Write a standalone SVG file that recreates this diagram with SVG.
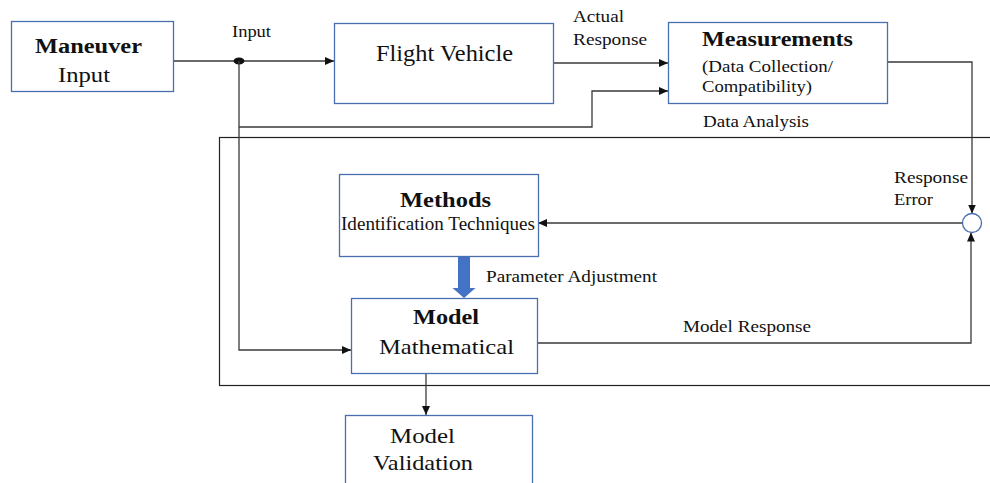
<svg xmlns="http://www.w3.org/2000/svg" width="990" height="483" viewBox="0 0 990 483">
  <style>
    .box { fill: #ffffff; stroke: #4a6fae; stroke-width: 1.3; }
    .frame { fill: none; stroke: #222222; stroke-width: 1.2; }
    .wire { fill: none; stroke: #3a3a3a; stroke-width: 1.3; }
    text { font-family: "Liberation Serif", "Times New Roman", serif; fill: #111111; }
    .b { font-weight: bold; }
    .lbl { font-size: 16px; }
  </style>
  <defs>
    <marker id="arr" markerUnits="userSpaceOnUse" markerWidth="10" markerHeight="8" refX="9" refY="4" orient="auto">
      <path d="M0,0 L9,4 L0,8 Z" fill="#111111"/>
    </marker>
  </defs>

  <!-- outer loop frame around identification loop -->
  <rect class="frame" x="219.5" y="137.5" width="800" height="248"/>

  <!-- connectors -->
  <g id="connectors">
    <path class="wire" d="M173 61 H334" marker-end="url(#arr)"/>
    <ellipse cx="239" cy="61" rx="5.5" ry="3.5" fill="#111111"/>
    <path class="wire" d="M239 61 V350 H351" marker-end="url(#arr)"/>
    <path class="wire" d="M239 127 H592 V91 H668" marker-end="url(#arr)"/>
    <path class="wire" d="M553 63 H668" marker-end="url(#arr)"/>
    <path class="wire" d="M887 62 H972 V213.5" marker-end="url(#arr)"/>
    <path class="wire" d="M962.5 223 H538" marker-end="url(#arr)"/>
    <path class="wire" d="M537 343 H971 V232.5" marker-end="url(#arr)"/>
    <path class="wire" d="M426 373 V415" marker-end="url(#arr)"/>
    <!-- parameter adjustment block arrow -->
    <path d="M458 256 H470 V288 H475.5 L464 298 L452.5 288 H458 Z" fill="#4472c4"/>
    <text class="lbl" x="232" y="37" textLength="39" lengthAdjust="spacingAndGlyphs">Input</text>
    <text class="lbl" x="573" y="22" textLength="51" lengthAdjust="spacingAndGlyphs">Actual</text>
    <text class="lbl" x="573" y="45" textLength="74" lengthAdjust="spacingAndGlyphs">Response</text>
    <text class="lbl" x="703" y="127" textLength="106" lengthAdjust="spacingAndGlyphs">Data Analysis</text>
    <text class="lbl" x="894" y="183" textLength="74" lengthAdjust="spacingAndGlyphs">Response</text>
    <text class="lbl" x="894" y="205" textLength="39" lengthAdjust="spacingAndGlyphs">Error</text>
    <text x="486" y="282" font-size="17" textLength="171" lengthAdjust="spacingAndGlyphs">Parameter Adjustment</text>
    <text class="lbl" x="683" y="332" textLength="128" lengthAdjust="spacingAndGlyphs">Model Response</text>
  </g>

  <!-- summing junction -->
  <g id="junction">
    <circle cx="972" cy="223" r="9.5" fill="#ffffff" stroke="#4a6fae" stroke-width="1.3"/>
  </g>

  <g id="maneuver">
    <rect class="box" x="11.5" y="21.5" width="162" height="70"/>
    <text class="b" x="35" y="53" font-size="20" textLength="107" lengthAdjust="spacingAndGlyphs">Maneuver</text>
    <text x="58" y="82" font-size="21" textLength="52" lengthAdjust="spacingAndGlyphs">Input</text>
  </g>

  <g id="flight-vehicle">
    <rect class="box" x="334.5" y="23.5" width="219" height="80"/>
    <text x="376" y="61" font-size="23" textLength="137" lengthAdjust="spacingAndGlyphs">Flight Vehicle</text>
  </g>

  <g id="measurements">
    <rect class="box" x="668.5" y="22.5" width="219" height="81"/>
    <text class="b" x="702" y="46" font-size="20" textLength="151" lengthAdjust="spacingAndGlyphs">Measurements</text>
    <text x="702" y="72" font-size="16.5" textLength="131" lengthAdjust="spacingAndGlyphs">(Data Collection/</text>
    <text x="702" y="92" font-size="16.5" textLength="110" lengthAdjust="spacingAndGlyphs">Compatibility)</text>
  </g>

  <g id="methods">
    <rect class="box" x="339.5" y="174.5" width="199" height="82"/>
    <text class="b" x="400" y="207" font-size="21" textLength="91" lengthAdjust="spacingAndGlyphs">Methods</text>
    <text x="341" y="230" font-size="18" textLength="194" lengthAdjust="spacingAndGlyphs">Identification Techniques</text>
  </g>

  <g id="model">
    <rect class="box" x="351.5" y="298.5" width="186" height="75"/>
    <text class="b" x="413" y="324" font-size="21" textLength="66" lengthAdjust="spacingAndGlyphs">Model</text>
    <text x="379" y="354" font-size="22" textLength="135" lengthAdjust="spacingAndGlyphs">Mathematical</text>
  </g>

  <g id="validation">
    <rect class="box" x="345.5" y="415.5" width="187" height="80"/>
    <text x="390" y="443" font-size="22" textLength="65" lengthAdjust="spacingAndGlyphs">Model</text>
    <text x="373" y="470" font-size="22" textLength="100" lengthAdjust="spacingAndGlyphs">Validation</text>
  </g>
</svg>
